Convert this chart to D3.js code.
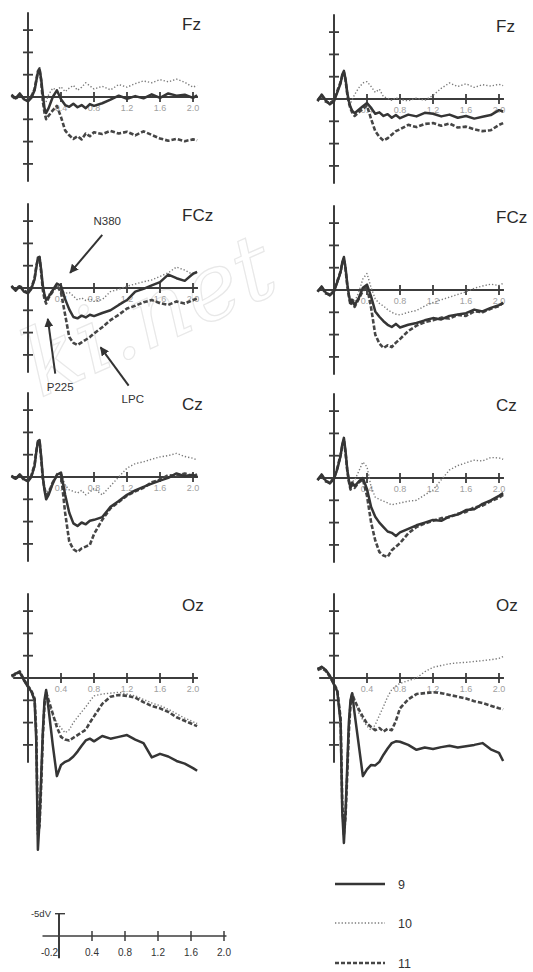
<!DOCTYPE html>
<html>
<head>
<meta charset="utf-8">
<script src="https://cdn.jsdelivr.net/npm/d3@7"></script>
<style>
  body { margin: 0; background: #fff; }
  svg { display: block; }
</style>
</head>
<body>
<div id="erp"></div>
<script>
// ERP grand averages, conditions 9 / 10 / 11, two groups x four electrodes
// values in microvolts, positive plotted downward (negative up)
const times = [-0.2, -0.15, -0.1, -0.05, 0, 0.04, 0.08, 0.1, 0.12, 0.14, 0.16, 0.18, 0.2, 0.22, 0.25,
  0.3, 0.35, 0.4, 0.45, 0.5, 0.55, 0.6, 0.65, 0.7, 0.75, 0.8, 0.9, 1.0, 1.1, 1.2, 1.3, 1.4, 1.5,
  1.6, 1.7, 1.8, 1.9, 2.0, 2.05];

const electrodes = ['Fz', 'FCz', 'Cz', 'Oz'];
const conditions = ['9', '10', '11'];
const xTicks = [0.4, 0.8, 1.2, 1.6, 2.0];
const xTickLabels = ['0.4', '0.8', '1.2', '1.6', '2.0'];
const yTicks = [-15, -10, -5, 5, 10, 15];
const scaleTicks = [-0.2, 0.4, 0.8, 1.2, 1.6, 2.0];
const scaleTickLabels = ['-0.2', '0.4', '0.8', '1.2', '1.6', '2.0'];

// left column
const fzL9 = [-0.5, 0.3, -0.8, 0.5, 1.0, 0.2, -1.5, -3.5, -5.5, -6.2, -4, -0.5, 2.5, 3.6, 2.5, 0, -1.5, 0.5, 1.8, 2.2, 1.5, 2.3, 1.8, 2.5, 1.6, 2.0, 1.4, 0.6, -0.3, 0.4, -0.2, 0.3, -0.6, 0.2, -0.8, -0.3, -0.5, 0.2, -0.4];
const fzL10 = [-0.5, 0.2, -0.6, 0.4, 0.8, -0.5, -2, -4, -5.5, -6, -3.8, -1, 0.5, 1.0, -0.5, -2, -1.5, -2.3, -1.2, -2, -2.6, -1.5, -2.2, -3.2, -2.5, -1.8, -2.4, -1.6, -2.8, -2.2, -3.0, -3.6, -3.2, -3.9, -3.4, -4.0, -3.3, -2.2, -2.6];
const fzL11 = [-0.3, 0.5, -0.5, 0.3, 0.8, 0, -1.8, -3.8, -5.8, -6.4, -3.5, 1.0, 3.5, 5.0, 4.2, 3.0, 2.0, 4.5, 7.5, 8.6, 9.4, 8.8, 9.5, 8.2, 8.8, 7.9, 8.3, 7.6, 8.2, 7.8, 8.6, 7.7, 8.5, 9.3, 9.8, 9.4, 9.9, 9.5, 9.7];

const fczL9 = [-0.5, 0.6, -0.4, 0.8, 1.2, 0.2, -2.0, -4.5, -6.8, -7.0, -4.0, -0.5, 1.5, 2.7, 2.0, 0.5, -1.0, -0.5, 2.5, 4.8, 6.5, 6.8, 6.2, 6.6, 6.0, 6.3, 5.6, 5.0, 3.8, 2.7, 0.8, 0.2, -0.6, -1.3, -3.0, -2.2, -1.6, -3.2, -3.6];
const fczL10 = [-0.4, 0.4, -0.5, 0.7, 1.0, 0.3, -1.8, -4.2, -6.0, -6.2, -3.2, 0, 1.8, 2.5, 1.5, 0.3, -0.8, 0.5, 1.2, 1.0, 1.8, 2.7, 2.2, 2.8, 2.4, 3.0, 2.6, 0.8, 0.3, -0.4, -0.9, -1.4, -1.8, -2.6, -3.4, -4.7, -4.0, -3.0, -3.4];
const fczL11 = [-0.3, 0.5, -0.6, 0.6, 1.0, 0, -2.2, -4.8, -6.5, -6.8, -3.5, 0.5, 2.5, 3.5, 2.2, 0.8, -0.6, 1.0, 6.0, 11.0, 12.3, 12.8, 12.2, 11.6, 11.0, 10.2, 8.8, 7.2, 6.0, 4.6, 4.0, 3.2, 2.7, 3.4, 3.8, 3.0, 3.5, 2.7, 2.4];

const czL9 = [-0.3, 0.4, -0.6, 0.5, 1.0, 0, -2.5, -5.5, -8.0, -8.3, -4.5, 0, 3.0, 5.0, 4.0, 1.5, -0.5, -1.0, 4.0, 8.0, 10.4, 11.0, 10.2, 10.6, 9.8, 9.6, 9.0, 6.7, 5.4, 4.0, 3.0, 2.2, 1.5, 0.8, 0.2, -0.8, -0.2, -0.5, 0];
const czL10 = [-0.4, 0.3, -0.5, 0.4, 0.9, 0.2, -2.2, -5.0, -7.2, -7.6, -4.0, -0.3, 2.4, 3.8, 3.0, 1.0, -0.8, -0.8, 1.8, 2.9, 3.2, 3.6, 3.0, 4.0, 3.4, 2.6, 4.0, 2.0, 0.0, -2.0, -3.0, -3.4, -4.0, -4.5, -4.8, -5.3, -4.6, -4.2, -3.8];
const czL11 = [-0.2, 0.5, -0.5, 0.6, 0.8, -0.3, -2.8, -5.8, -7.8, -8.0, -4.0, 0.5, 2.5, 4.0, 3.6, 1.2, -0.3, -0.6, 8.0, 14.5, 16.2, 16.8, 16.0, 15.6, 15.2, 12.8, 9.6, 7.0, 5.6, 4.2, 3.2, 2.4, 1.2, 0.6, -0.4, -0.2, -0.8, -0.2, -0.6];

const ozL9 = [-0.5, -1.0, -1.3, 0.5, 2.0, 3.0, 5.0, 14, 38.5, 32, 22, 12, 5, 2.7, 7, 15, 22, 19.5, 18.8, 18.4, 17.6, 16.5, 15.2, 14.0, 13.6, 14.2, 13.0, 13.6, 13.2, 12.8, 13.8, 14.6, 17.8, 17.0, 17.6, 18.6, 19.2, 20.2, 20.8];
const ozL10 = [-0.6, -1.2, -1.0, 0.6, 2.2, 3.2, 5.5, 16, 36, 30, 21, 11, 5, 3.0, 5.5, 8.5, 10.0, 11.2, 12.3, 11.6, 10.0, 8.8, 7.6, 6.5, 5.2, 4.0, 3.6, 3.4, 3.2, 3.6, 4.0, 4.8, 5.6, 6.2, 7.0, 8.0, 9.0, 9.8, 10.2];
const ozL11 = [-0.3, -0.8, -1.5, 0.3, 1.8, 2.8, 4.6, 12, 35, 33, 24, 13, 6, 3.2, 5.0, 8.0, 11.0, 13.2, 13.8, 14.0, 13.4, 12.8, 12.2, 11.6, 10.0, 8.6, 5.8, 4.2, 3.8, 4.0, 4.4, 5.4, 6.3, 6.8, 7.6, 8.8, 9.6, 10.4, 10.8];

// right column
const fzR9 = [0.5, -1.0, 0.3, 1.2, 0.5, -1.5, -3.5, -5.5, -6.3, -4.5, -1.5, 0.5, 1.8, 2.6, 3.2, 2.4, 1.6, 0.9, 2.0, 3.3, 3.0, 3.8, 3.4, 4.2, 3.6, 4.3, 3.5, 3.9, 3.1, 3.3, 3.9, 3.5, 4.2, 3.8, 4.4, 4.0, 3.6, 2.5, 2.8];
const fzR10 = [0.2, -0.6, 0.4, 0.8, 0, -1.5, -3.2, -4.8, -5.5, -3.8, -1.0, 0.6, 1.0, 0.2, -1.0, -2.5, -3.6, -3.9, -2.8, -1.5, -2.2, -0.5, -0.2, 0.3, -0.3, 0.2, 0.4, -0.2, 0.3, -0.8, -2.4, -3.6, -2.8, -3.4, -2.6, -3.2, -2.9, -3.3, -3.0];
const fzR11 = [0.3, -0.8, 0.6, 1.0, 0.2, -1.8, -3.8, -5.2, -6.0, -4.2, -1.2, 0.8, 2.2, 3.0, 3.8, 3.0, 2.2, 1.5, 4.5, 7.2, 8.5, 9.3, 8.8, 8.0, 7.2, 6.8, 5.8, 6.3, 5.6, 5.4, 6.0, 5.5, 6.4, 6.2, 6.8, 7.2, 7.0, 5.8, 5.4];

const fczR9 = [0.4, -0.8, 0.6, 1.2, 0.3, -1.8, -4.0, -6.2, -7.4, -5.0, -1.5, 1.0, 3.0, 2.2, 3.4, 1.8, -0.5, -1.2, 1.5, 4.8, 6.0, 7.0, 7.8, 8.3, 7.6, 8.4, 7.8, 7.4, 6.8, 6.3, 6.6, 5.8, 5.5, 5.2, 4.4, 4.8, 4.0, 3.4, 3.0];
const fczR10 = [0.2, -0.5, 0.5, 0.9, 0.1, -1.5, -3.5, -5.5, -6.6, -4.2, -1.0, 1.2, 2.5, 1.8, 2.6, 0.5, -2.5, -3.7, -0.5, 2.0, 3.0, 3.6, 4.4, 5.0, 5.4, 5.6, 5.0, 4.6, 3.6, 2.8, 2.2, 1.6, 1.0, 0.4, -0.4, -0.9, -1.3, -1.0, -1.5];
const fczR11 = [0.3, -0.6, 0.8, 1.0, 0.2, -2.0, -4.2, -6.0, -7.0, -4.6, -1.2, 1.4, 3.4, 2.8, 3.8, 2.0, 0.2, -0.8, 4.0, 10.0, 12.0, 13.0, 12.4, 12.8, 11.8, 11.0, 9.2, 8.0, 7.2, 6.8, 6.2, 6.4, 5.6, 5.8, 4.8, 5.0, 4.2, 3.6, 2.8];

const czR9 = [0.5, -0.8, 0.6, 1.2, 0.2, -2.0, -5.0, -7.5, -9.0, -6.0, -2.0, 0.5, 2.2, 1.0, 1.8, 0.8, 0, 2.5, 6.5, 8.7, 10.0, 11.0, 12.0, 12.3, 13.0, 12.2, 11.4, 10.6, 10.0, 9.4, 9.6, 8.6, 8.2, 7.2, 7.0, 5.8, 5.0, 4.0, 3.4];
const czR10 = [0.3, -0.5, 0.5, 0.9, 0.1, -1.8, -4.6, -7.0, -8.2, -5.4, -1.6, 0.6, 2.0, 0.8, 0.5, -1.5, -3.6, -2.5, 2.0, 4.3, 4.8, 5.2, 5.6, 6.0, 5.8, 5.6, 5.2, 5.0, 3.8, 2.7, 0.4, -1.8, -2.8, -3.4, -4.0, -3.8, -4.6, -4.5, -4.2];
const czR11 = [0.4, -0.6, 0.8, 1.0, 0, -2.2, -5.2, -7.2, -8.6, -5.6, -1.8, 0.8, 2.6, 1.4, 2.2, 1.0, 0.3, 4.0, 10.0, 14.0, 16.6, 17.4, 17.7, 16.2, 15.4, 14.6, 12.4, 11.0, 10.2, 9.6, 9.0, 8.8, 8.0, 7.6, 6.6, 6.2, 5.2, 4.4, 3.8];

const ozR9 = [-2.0, -2.5, -1.8, -0.5, 1.5, 3.0, 10, 30, 37, 30, 20, 10, 5, 3.4, 8, 15, 22, 20.5, 19.5, 19.6, 18.8, 17.2, 15.8, 14.6, 14.2, 14.3, 15.0, 16.1, 15.6, 15.9, 15.5, 15.2, 15.6, 15.3, 15.0, 14.6, 16.0, 16.8, 18.6];
const ozR10 = [-2.2, -2.6, -2.0, -0.6, 1.6, 3.2, 11, 31, 36, 29, 19, 9, 4.5, 3.2, 5.2, 7.8, 9.4, 10.8, 11.7, 10.5, 8.4, 6.4, 4.2, 2.6, 1.8, 1.2, 0.6, 0, -1.4, -2.4, -2.8, -3.2, -3.4, -3.5, -3.7, -3.9, -4.1, -4.4, -4.8];
const ozR11 = [-1.8, -2.2, -1.6, -0.3, 1.3, 2.8, 9, 28, 35, 31, 22, 12, 6, 3.6, 5.0, 7.0, 8.7, 10.2, 11.0, 11.7, 11.2, 12.0, 11.4, 11.7, 9.6, 6.8, 4.8, 3.6, 3.4, 3.2, 3.4, 3.8, 4.2, 4.6, 5.2, 5.6, 6.2, 6.8, 7.0];

const panels = [
  { electrode: 'Fz', row: 0, col: 0, series: { '9': fzL9, '10': fzL10, '11': fzL11 } },
  { electrode: 'FCz', row: 1, col: 0, series: { '9': fczL9, '10': fczL10, '11': fczL11 } },
  { electrode: 'Cz', row: 2, col: 0, series: { '9': czL9, '10': czL10, '11': czL11 } },
  { electrode: 'Oz', row: 3, col: 0, series: { '9': ozL9, '10': ozL10, '11': ozL11 } },
  { electrode: 'Fz', row: 0, col: 1, series: { '9': fzR9, '10': fzR10, '11': fzR11 } },
  { electrode: 'FCz', row: 1, col: 1, series: { '9': fczR9, '10': fczR10, '11': fczR11 } },
  { electrode: 'Cz', row: 2, col: 1, series: { '9': czR9, '10': czR10, '11': czR11 } },
  { electrode: 'Oz', row: 3, col: 1, series: { '9': ozR9, '10': ozR10, '11': ozR11 } }
];

// component annotations on left FCz (time s, amplitude uV)
const annotations = [
  { label: 'N380', tail: [0.9, -11.9], head: [0.51, -3.4], at: [0.96, -14.2] },
  { label: 'P225', tail: [0.33, 19.2], head: [0.24, 6.9], at: [0.39, 23.0] },
  { label: 'LPC', tail: [1.22, 21.9], head: [0.88, 13.3], at: [1.27, 25.8] }
];

(function () {
  const width = 533;
  const height = 972;
  const colX = [28, 334];
  const rowY = [[97, 99], [288, 290], [477, 478], [678, 678]];

  const styles = {
    '9': { stroke: '#353535', width: 2.5, dash: null },
    '10': { stroke: '#7a7a7a', width: 1.4, dash: '1.3,2' },
    '11': { stroke: '#464646', width: 2.6, dash: '4.5,2' }
  };
  const axisColor = '#3c3c3c';
  const font = '"Liberation Sans", Arial, sans-serif';

  const x = d3.scaleLinear().domain([0, 2]).range([0, 165]);
  const y = d3.scaleLinear().domain([0, 5]).range([0, 22.3]);

  const svg = d3.select('#erp')
    .append('svg')
    .attr('width', width)
    .attr('height', height);

  svg.append('rect').attr('width', width).attr('height', height).attr('fill', '#fff');

  // faint site watermark
  svg.append('text')
    .attr('transform', 'translate(40,398) rotate(-24)')
    .attr('font-family', '"DejaVu Serif", serif')
    .attr('font-style', 'italic')
    .attr('font-size', 92)
    .attr('fill', 'none')
    .attr('stroke', '#e8e8e8')
    .attr('stroke-width', 1.2)
    .text('ki.net');

  svg.append('defs')
    .append('marker')
    .attr('id', 'arrow')
    .attr('viewBox', '0 0 10 10')
    .attr('refX', 9)
    .attr('refY', 5)
    .attr('markerWidth', 4.5)
    .attr('markerHeight', 4.5)
    .attr('orient', 'auto')
    .append('path')
    .attr('d', 'M0,0 L10,5 L0,10 z')
    .attr('fill', '#333');

  const line = d3.line()
    .x((d) => x(d[0]))
    .y((d) => y(d[1]));

  function drawAxes(g) {
    g.append('line')
      .attr('x1', x(-0.18)).attr('x2', x(2.06))
      .attr('y1', 0).attr('y2', 0)
      .attr('stroke', axisColor).attr('stroke-width', 2);
    g.append('line')
      .attr('x1', 0).attr('x2', 0)
      .attr('y1', y(-19)).attr('y2', y(19))
      .attr('stroke', axisColor).attr('stroke-width', 2);
    g.selectAll('.ytick')
      .data(yTicks)
      .enter()
      .append('line')
      .attr('x1', -5).attr('x2', 5)
      .attr('y1', (d) => y(d)).attr('y2', (d) => y(d))
      .attr('stroke', axisColor).attr('stroke-width', 1.8);
    g.selectAll('.xtick')
      .data(xTicks)
      .enter()
      .append('line')
      .attr('x1', (d) => x(d)).attr('x2', (d) => x(d))
      .attr('y1', -5).attr('y2', 5)
      .attr('stroke', axisColor).attr('stroke-width', 1.8);
  }

  panels.forEach((p) => {
    const g = svg.append('g')
      .attr('transform', `translate(${colX[p.col]},${rowY[p.row][p.col]})`);

    drawAxes(g);

    g.selectAll('.xlabel')
      .data(xTicks)
      .enter()
      .append('text')
      .attr('x', (d) => x(d))
      .attr('y', 14)
      .attr('text-anchor', 'middle')
      .attr('font-family', font)
      .attr('font-size', 9)
      .attr('fill', '#a0a0a0')
      .text((d, i) => xTickLabels[i]);

    // dotted first, dashed, then solid on top
    ['10', '11', '9'].forEach((c) => {
      const s = styles[c];
      g.append('path')
        .datum(times.map((t, i) => [t, p.series[c][i]]))
        .attr('d', line)
        .attr('fill', 'none')
        .attr('stroke', s.stroke)
        .attr('stroke-width', s.width)
        .attr('stroke-dasharray', s.dash)
        .attr('stroke-linejoin', 'round');
    });

    g.append('text')
      .attr('x', p.col === 0 ? 154 : 162)
      .attr('y', -67)
      .attr('font-family', font)
      .attr('font-size', 17)
      .attr('fill', '#2a2a2a')
      .text(p.electrode);
  });

  // arrows on left FCz
  const ag = svg.append('g').attr('transform', `translate(${colX[0]},${rowY[1][0]})`);
  annotations.forEach((a) => {
    ag.append('line')
      .attr('x1', x(a.tail[0])).attr('y1', y(a.tail[1]))
      .attr('x2', x(a.head[0])).attr('y2', y(a.head[1]))
      .attr('stroke', '#333')
      .attr('stroke-width', 2)
      .attr('marker-end', 'url(#arrow)');
    ag.append('text')
      .attr('x', x(a.at[0])).attr('y', y(a.at[1]))
      .attr('text-anchor', 'middle')
      .attr('font-family', font)
      .attr('font-size', 11.5)
      .attr('fill', '#333')
      .text(a.label);
  });

  // calibration axes
  const cal = svg.append('g').attr('transform', 'translate(59,936)');
  cal.append('line')
    .attr('x1', x(-0.2)).attr('x2', x(2.03))
    .attr('y1', 0).attr('y2', 0)
    .attr('stroke', axisColor).attr('stroke-width', 1.6);
  cal.append('line')
    .attr('x1', 0).attr('x2', 0)
    .attr('y1', y(-5)).attr('y2', y(5))
    .attr('stroke', axisColor).attr('stroke-width', 2);
  cal.append('line')
    .attr('x1', -4).attr('x2', 6)
    .attr('y1', y(-5)).attr('y2', y(-5))
    .attr('stroke', axisColor).attr('stroke-width', 1.4);
  cal.selectAll('.ctick')
    .data(xTicks)
    .enter()
    .append('line')
    .attr('x1', (d) => x(d)).attr('x2', (d) => x(d))
    .attr('y1', -5).attr('y2', 5)
    .attr('stroke', axisColor).attr('stroke-width', 1.5);
  cal.selectAll('.clabel')
    .data(scaleTicks)
    .enter()
    .append('text')
    .attr('x', (d) => (d < 0 ? x(d) + 7 : x(d)))
    .attr('y', 20)
    .attr('text-anchor', 'middle')
    .attr('font-family', font)
    .attr('font-size', 10)
    .attr('fill', '#333')
    .text((d, i) => scaleTickLabels[i]);
  cal.append('text')
    .attr('x', -8)
    .attr('y', y(-5) + 3)
    .attr('text-anchor', 'end')
    .attr('font-family', font)
    .attr('font-size', 9.5)
    .attr('fill', '#333')
    .text('-5dV');

  // legend
  const legendY = [884, 923, 963];
  const lg = svg.append('g').attr('transform', 'translate(335,0)');
  conditions.forEach((c, i) => {
    const s = styles[c];
    lg.append('line')
      .attr('x1', 0).attr('x2', 50)
      .attr('y1', legendY[i]).attr('y2', legendY[i])
      .attr('stroke', s.stroke)
      .attr('stroke-width', c === '10' ? 1.6 : 2.4)
      .attr('stroke-dasharray', c === '11' ? '4,2' : s.dash);
    lg.append('text')
      .attr('x', 63)
      .attr('y', legendY[i] + 4.5)
      .attr('font-family', font)
      .attr('font-size', 12.5)
      .attr('fill', '#333')
      .text(c);
  });
})();
</script>
</body>
</html>
